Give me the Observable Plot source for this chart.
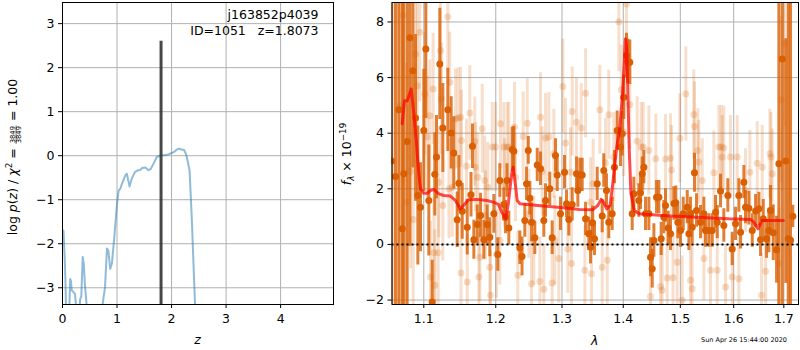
<!DOCTYPE html>
<html><head><meta charset="utf-8">
<script src="https://cdn.jsdelivr.net/npm/d3@7"></script>
<script src="https://cdn.jsdelivr.net/npm/@observablehq/plot@0.6"></script>
<style>
body{margin:0;background:#fff;}
#chart{position:relative;width:800px;height:350px;font-family:"DejaVu Sans",sans-serif;}
#chart svg{position:absolute;top:0;overflow:visible;}
text{white-space:pre;}
</style></head><body><div id="chart"></div>
<script>
// ---------- left panel: redshift PDF ----------
const zGrid = [0.01,0.018,0.04,0.055,0.07,0.10,0.125,0.14,0.155,0.17,0.20,0.23,0.26,0.29,0.325,0.345,0.37,0.39,0.41,0.45,0.5,0.6,0.7,0.78,0.815,0.84,0.875,0.906,0.95,1.0,1.03,1.06,1.09,1.15,1.18,1.23,1.27,1.33,1.39,1.43,1.46,1.52,1.58,1.62,1.67,1.73,1.79,1.85,1.92,1.98,2.04,2.10,2.14,2.18,2.23,2.26,2.28,2.33,2.37,2.40,2.43,2.46,2.5];
const logPz = [-1.70,-1.70,-2.3,-2.9,-3.8,-4.0,-3.5,-2.80,-2.85,-3.06,-3.10,-3.14,-3.6,-3.8,-3.25,-3.2,-2.30,-2.45,-2.91,-3.5,-4.2,-4.5,-3.7,-2.98,-2.11,-2.15,-2.57,-2.45,-1.85,-1.09,-0.79,-0.75,-0.64,-0.45,-0.41,-0.70,-0.52,-0.37,-0.33,-0.32,-0.28,-0.27,-0.33,-0.30,-0.18,-0.03,0.0,0.01,0.02,0.05,0.08,0.14,0.16,0.14,0.13,0.05,-0.03,-0.33,-1.39,-2.38,-3.36,-4.3,-5];
const zBest = 1.8073;
const zRuleTop = 2.6;
const zTicks = [0,1,2,3,4];
const pTicks = [-3,-2,-1,0,1,2,3];
const objName = "j163852p4039";
const objId = 1051;

// ---------- right panel: spectrum ----------
const waveTicks = [1.1,1.2,1.3,1.4,1.5,1.6,1.7];
const fluxTicks = [-2,0,2,4,6,8];
const darkWave = [1.0575,1.0630,1.0672,1.0716,1.0737,1.0781,1.0816,1.0855,1.0891,1.0921,1.0956,1.1000,1.1027,1.1067,1.1112,1.1147,1.1170,1.1215,1.1256,1.1324,1.1370,1.1406,1.1453,1.1476,1.1523,1.1593,1.1646,1.1667,1.1686,1.1734,1.1781,1.1828,1.1876,1.1914,1.1972,1.2030,1.2059,1.2117,1.2142,1.2164,1.2191,1.2241,1.2265,1.2354,1.2387,1.2429,1.2455,1.2481,1.2505,1.2530,1.2580,1.2617,1.2667,1.2718,1.2744,1.2810,1.2847,1.2899,1.2925,1.2977,1.3040,1.3072,1.3108,1.3162,1.3231,1.3252,1.3284,1.3322,1.3376,1.3429,1.3457,1.3489,1.3522,1.3566,1.3648,1.3674,1.3719,1.3757,1.3814,1.3852,1.3897,1.3954,1.3982,1.4009,1.4055,1.4077,1.4111,1.4152,1.4180,1.4266,1.4295,1.4325,1.4353,1.4382,1.4440,1.4469,1.4499,1.4528,1.4575,1.4616,1.4657,1.4704,1.4734,1.4782,1.4823,1.4883,1.4919,1.4955,1.5004,1.5053,1.5126,1.5156,1.5186,1.5217,1.5259,1.5297,1.5371,1.5433,1.5464,1.5526,1.5590,1.5653,1.5685,1.5747,1.5810,1.5887,1.5971,1.6036,1.6100,1.6133,1.6198,1.6231,1.6296,1.6363,1.6429,1.6495,1.6528,1.6582,1.6649,1.6695,1.6729,1.6784,1.6851,1.6898,1.6967,1.7040,1.7091,1.7138,1.7186];
const darkFlux = [3.0,2.44,4.84,0.56,2.54,3.70,7.43,6.25,4.55,1.76,1.34,4.10,7.03,1.58,-2.07,2.52,3.14,6.49,4.19,4.84,4.01,3.29,0.89,2.20,1.19,0.62,1.79,3.53,0.17,0.72,1.04,0.17,0.72,0.26,1.10,-0.36,2.30,1.44,0.98,2.30,0.59,3.41,3.35,-0.12,-0.43,0.86,2.18,3.38,1.66,0.80,0.24,2.86,2.72,0.86,1.58,2.00,0.24,3.20,2.50,1.10,2.60,1.46,0.90,1.44,2.54,1.94,2.50,2.50,0.92,0.38,-0.10,0.78,0.20,2.18,1.02,2.66,1.94,0.80,1.10,2.78,4.10,3.50,3.98,5.29,6.79,6.58,6.55,1.10,1.82,1.58,1.86,2.54,2.78,1.10,1.10,-0.46,-0.87,0.14,1.70,1.70,0.20,0.98,1.40,0.59,0.38,1.47,1.50,0.80,0.50,1.10,1.34,0.38,1.10,0.62,2.58,1.22,0.80,1.10,0.50,0.50,0.50,1.16,0.80,1.92,0.68,1.76,-0.16,0.74,1.76,0.44,2.24,1.34,1.30,0.50,1.20,1.28,0.17,0.92,0.20,0.50,1.22,0.42,-0.19,2.90,6.67,3.0,0.20,0.15,1.01];
const darkErr = [20,20,20,20,20,20,7.5,3.5,3.0,2.5,1.6,2.2,2.5,2.0,1.5,1.5,1.5,2.0,1.6,1.5,1.3,1.3,1.0,1.0,1.0,1.0,0.8,0.8,0.7,0.7,0.8,0.7,0.7,0.7,0.7,0.6,0.6,0.6,0.6,0.6,0.6,0.8,0.9,0.6,0.7,0.6,0.6,0.5,0.6,0.7,0.6,0.6,0.6,0.6,0.6,0.6,0.6,0.6,0.6,0.6,0.6,0.5,0.6,0.6,0.6,0.6,0.6,0.6,0.6,0.6,0.6,0.6,0.6,0.6,0.6,0.6,0.6,0.6,0.6,0.6,0.7,0.7,0.8,0.8,0.8,0.8,0.8,0.6,0.6,0.6,0.6,0.6,0.6,0.6,0.6,0.7,0.7,0.6,0.6,0.6,0.6,0.6,0.6,0.6,0.6,0.6,0.6,0.6,0.6,0.6,0.6,0.6,0.6,0.6,0.7,0.6,0.6,0.6,0.6,0.6,0.6,0.6,0.6,0.6,0.6,0.6,0.6,0.6,0.6,0.6,0.6,0.6,0.6,0.6,0.6,0.6,0.6,0.7,0.7,0.8,0.9,1.0,1.2,20,20,4.4,20,20,0.4];
const lightWave = [1.0600,1.0690,1.0724,1.0772,1.0825,1.0860,1.0891,1.0913,1.0947,1.1013,1.1045,1.1080,1.1089,1.1125,1.1136,1.1147,1.1193,1.1202,1.1224,1.1238,1.1256,1.1324,1.1340,1.1351,1.1384,1.1429,1.1466,1.1499,1.1506,1.1513,1.1583,1.1593,1.1629,1.1700,1.1710,1.1743,1.1757,1.1771,1.1805,1.1842,1.1852,1.1885,1.1914,1.1924,1.1949,1.1996,1.2011,1.2059,1.2069,1.2117,1.2128,1.2167,1.2191,1.2275,1.2290,1.2324,1.2404,1.2465,1.2489,1.2530,1.2565,1.2657,1.2667,1.2693,1.2718,1.2744,1.2795,1.2847,1.2873,1.2888,1.2951,1.3014,1.3056,1.3093,1.3135,1.3151,1.3162,1.3231,1.3306,1.3365,1.3376,1.3457,1.3473,1.3500,1.3609,1.3648,1.3703,1.3731,1.3757,1.3841,1.3925,1.3965,1.4009,1.4055,1.4111,1.4238,1.4307,1.4342,1.4440,1.4469,1.4562,1.4645,1.4675,1.4734,1.4764,1.4823,1.4841,1.4868,1.4943,1.4991,1.5035,1.5101,1.5186,1.5217,1.5247,1.5260,1.5320,1.5339,1.5403,1.5433,1.5558,1.5621,1.5685,1.5716,1.5760,1.5779,1.5810,1.5843,1.5939,1.5971,1.6068,1.6100,1.6231,1.6316,1.6462,1.6548,1.6562,1.6628,1.6715,1.6739,1.6763,1.6898,1.6946,1.7021];
const lightFlux = [3.0,5.0,8.23,1.52,2.63,0.90,6.85,5.71,7.63,5.41,3.86,4.63,-1.17,5.59,-0.30,-1.47,-0.30,2.24,6.97,5.24,1.40,8.19,2.00,5.83,2.06,4.51,4.55,4.57,-1.03,3.74,2.81,-1.35,4.73,3.70,2.78,2.42,-1.17,-0.46,4.16,2.30,1.04,2.06,-0.82,-1.83,3.50,3.50,-0.34,0.14,4.34,3.50,2.20,3.50,3.50,4.22,2.42,-1.11,3.88,4.36,1.10,-1.41,0.14,-1.33,4.57,2.62,-1.61,3.83,3.86,-1.39,3.26,0.14,-0.51,5.68,3.65,-0.16,2.60,-0.69,4.78,4.39,4.19,-0.93,5.44,1.52,-1.05,2.18,4.84,-0.82,2.94,-0.57,4.66,3.14,8.01,5.56,4.04,8.65,5.02,3.71,3.50,3.50,3.38,-1.86,3.08,-1.51,-1.65,3.07,-1.21,3.10,2.68,-1.20,-0.64,3.82,-2.01,5.41,-1.29,-1.59,4.67,4.24,3.38,2.96,2.30,-0.51,-0.93,2.58,-0.93,3.50,3.50,3.14,3.47,-1.53,3.14,-1.17,3.14,-1.23,1.94,2.60,2.92,-1.83,2.78,-0.96,3.26,3.14,2.54,-0.69,5.20,7.23];
const lightErr = [20,20,6,5,3.5,3.5,3.0,3.0,2.5,2.2,2.2,2.0,2.0,2.0,2.0,2.0,2.0,2.0,2.0,2.0,2.0,2.0,1.8,1.8,1.8,1.8,1.8,1.8,1.8,1.8,1.7,1.7,1.7,1.6,1.6,1.6,1.6,1.6,1.6,1.6,1.6,1.6,1.6,1.6,1.6,1.6,1.6,1.6,1.6,1.6,1.6,1.6,1.6,1.6,1.6,1.6,1.6,1.6,1.6,1.6,1.6,1.6,1.6,1.6,1.6,1.6,1.6,1.6,1.6,1.6,1.6,1.7,1.6,1.6,1.6,1.6,1.6,1.6,1.6,1.6,1.6,1.6,1.6,1.6,1.6,1.6,1.6,1.6,1.6,1.6,1.8,1.6,1.6,1.8,1.6,1.6,1.6,1.6,1.6,1.6,1.6,1.6,1.6,1.6,1.6,1.6,1.6,1.6,1.6,1.6,1.6,1.7,1.6,1.6,1.6,1.6,1.5,1.5,1.5,1.5,1.5,1.5,1.5,1.5,1.5,1.5,1.5,1.5,1.5,1.5,1.5,1.5,1.5,1.5,1.5,1.5,1.5,1.5,1.6,1.6,1.6,2.0,3,3];
const modelWave = [1.0716,1.0746,1.0782,1.0834,1.0868,1.0900,1.0934,1.0956,1.1000,1.1045,1.1089,1.1134,1.1202,1.1269,1.1359,1.1428,1.1496,1.1542,1.1611,1.1729,1.1871,1.1966,1.2038,1.2087,1.2145,1.2183,1.2233,1.2256,1.2281,1.2315,1.2356,1.2505,1.2758,1.3016,1.3280,1.3494,1.3575,1.3631,1.3669,1.3723,1.3779,1.3823,1.3890,1.3934,1.3980,1.4019,1.4035,1.4058,1.4081,1.4102,1.4131,1.4188,1.4273,1.4678,1.5279,1.5904,1.6327,1.6392,1.6478,1.6557,1.6687,1.6990];
const modelFlux = [4.34,5.17,5.17,5.59,4.70,3.74,2.54,2.00,1.84,1.84,1.94,1.98,1.82,1.76,1.74,1.58,1.28,1.40,1.61,1.62,1.58,1.52,1.44,1.16,0.92,1.46,2.54,2.78,2.30,1.58,1.46,1.43,1.37,1.32,1.26,1.25,1.40,1.62,1.52,1.28,1.40,2.18,3.50,4.04,5.17,6.61,7.39,7.09,5.17,3.38,1.82,1.22,1.10,1.04,0.98,0.92,0.90,0.80,0.56,0.86,0.86,0.86];
const stamp = "Sun Apr 26 15:44:00 2020";

// ---------- tables ----------
const pz = zGrid.map((z, i) => ({z, p: logPz[i]}));
const dark = darkWave.map((w, i) => ({w, f: darkFlux[i], e: darkErr[i]}));
const light = lightWave.map((w, i) => ({w, f: lightFlux[i], e: lightErr[i]}));
const model = modelWave.map((w, i) => ({w, f: modelFlux[i]}));

const FONT = "DejaVu Sans";
const FS = 12.5;
const ORANGE = "#d95f02";
const GRID = {stroke: "#b0b0b0", strokeOpacity: 1, strokeWidth: 1};
const minus = d => (d < 0 ? "\u2212" + Math.abs(d) : String(d));
const baseStyle = {fontFamily: FONT, fontSize: FS + "px", color: "black", background: "transparent", overflow: "visible"};

const left = Plot.plot({
  width: 340, height: 350,
  marginLeft: 62, marginRight: 7, marginTop: 2, marginBottom: 46,
  style: baseStyle,
  x: {domain: [0, 4.97]},
  y: {domain: [-3.38, 3.48]},
  marks: [
    Plot.gridX({ticks: zTicks, ...GRID}),
    Plot.gridY({ticks: pTicks, ...GRID}),
    Plot.line(pz, {x: "z", y: "p", stroke: "#1f77b4", strokeOpacity: 0.5, strokeWidth: 2, clip: true}),
    Plot.ruleX([zBest], {y1: -3.38, y2: zRuleTop, stroke: "#333", strokeOpacity: 0.9, strokeWidth: 3}),
    Plot.axisX({ticks: zTicks, tickFormat: minus, tickSize: 4, tickPadding: 6, label: null, fontSize: FS}),
    Plot.axisY({ticks: pTicks, tickFormat: minus, tickSize: 4, tickPadding: 4, label: null, fontSize: FS}),
    Plot.frame({stroke: "black", strokeWidth: 1}),
    Plot.text([objName], {frameAnchor: "top-right", dx: -15, dy: 12, text: d => d, textAnchor: "end", lineAnchor: "middle", fontSize: FS}),
    Plot.text([objId], {frameAnchor: "top-right", dx: -15, dy: 28, text: d => "ID=" + d + "\u00a0\u00a0\u00a0z=" + zBest.toFixed(4), textAnchor: "end", lineAnchor: "middle", fontSize: FS})
  ]
});

const right = Plot.plot({
  width: 460, height: 350,
  marginLeft: 51.5, marginRight: 2, marginTop: 2, marginBottom: 46,
  style: baseStyle,
  x: {type: "log", domain: [1.0585, 1.7304]},
  y: {domain: [-2.16, 8.70]},
  marks: [
    Plot.gridX({ticks: waveTicks, ...GRID}),
    Plot.gridY({ticks: fluxTicks, ...GRID}),
    Plot.ruleX(light, {x: "w", y1: d => d.f - d.e, y2: d => d.f + d.e, stroke: ORANGE, strokeOpacity: 0.2, strokeWidth: 3, clip: true}),
    Plot.dot(light, {x: "w", y: "f", r: 3.5, fill: ORANGE, fillOpacity: 0.22, clip: true}),
    Plot.ruleX(dark, {x: "w", y1: d => d.f - d.e, y2: d => d.f + d.e, stroke: ORANGE, strokeOpacity: 0.8, strokeWidth: 3, clip: true}),
    Plot.dot(dark, {x: "w", y: "f", r: 3.5, fill: ORANGE, clip: true}),
    Plot.line(model, {x: "w", y: "f", stroke: "red", strokeOpacity: 0.7, strokeWidth: 3, clip: true}),
    Plot.ruleY([0], {stroke: "black", strokeWidth: 2, strokeDasharray: "2,3"}),
    Plot.axisX({ticks: waveTicks, tickFormat: d => d.toFixed(1), tickSize: 4, tickPadding: 6, label: null, fontSize: FS}),
    Plot.axisY({ticks: fluxTicks, tickFormat: minus, tickSize: 4, tickPadding: 4, label: null, fontSize: FS}),
    Plot.frame({stroke: "black", strokeWidth: 1})
  ]
});

const chart = document.getElementById("chart");
left.style.left = "0px";
right.style.left = "340px";
chart.appendChild(left);
chart.appendChild(right);

// math-style labels laid out piece by piece (start-anchored pieces)
function mathLabel(svgNode, cx, cy, rot, pieces) {
  const svg = d3.select(svgNode);
  const g = svg.append("g").attr("transform", `translate(${cx},${cy}) rotate(${rot})`).attr("text-anchor", "start");
  const inner = g.append("g");
  let x = 0;
  for (const p of pieces) {
    if (p.frac) {
      const mk = s => inner.append("text").text(s).attr("text-anchor", "start").attr("font-family", FONT).attr("font-size", p.size).attr("fill", "black");
      const n = mk(p.frac[0]), d = mk(p.frac[1]);
      const w1 = n.node().getComputedTextLength(), w2 = d.node().getComputedTextLength();
      const w = Math.max(w1, w2) + 2;
      n.attr("x", x + (w - w1) / 2).attr("y", p.ny);
      d.attr("x", x + (w - w2) / 2).attr("y", p.dy);
      inner.append("line").attr("x1", x + 0.5).attr("x2", x + w - 0.5).attr("y1", p.by).attr("y2", p.by).attr("stroke", "black").attr("stroke-width", 0.6);
      x += w;
    } else {
      const t = inner.append("text").text(p.t).attr("text-anchor", "start")
        .attr("font-family", FONT).attr("font-size", p.size || FS)
        .attr("font-style", p.it ? "italic" : "normal")
        .attr("fill", "black").attr("x", x).attr("y", p.dy || 0);
      x += t.node().getComputedTextLength();
    }
  }
  inner.attr("transform", `translate(${-x / 2},0)`);
}

mathLabel(left, 17, 157, -90, [
  {t: "log "}, {t: "p", it: true}, {t: "("}, {t: "z", it: true}, {t: ") / "}, {t: "\u03c7", it: true},
  {t: "2", size: 8.8, dy: -5}, {t: " = "},
  {frac: ["3849", "3849"], size: 6.8, ny: -1.8, dy: 3.6, by: -0.9},
  {t: " = 1.00"}
]);
mathLabel(right, 11, 154, -90, [
  {t: "f", it: true}, {t: "\u03bb", it: true, size: 8.8, dy: 2.5}, {t: " \u00d7 10"}, {t: "\u221219", size: 8.8, dy: -5}
]);
mathLabel(left, 197.5, 344, 0, [{t: "z", it: true}]);
mathLabel(right, 254.7, 345, 0, [{t: "\u03bb", it: true}]);

d3.select(right).append("text").text(stamp)
  .attr("x", 447).attr("y", 341.5).attr("text-anchor", "end")
  .attr("font-family", FONT).attr("font-size", 6.5).attr("fill", "black");
</script></body></html>
